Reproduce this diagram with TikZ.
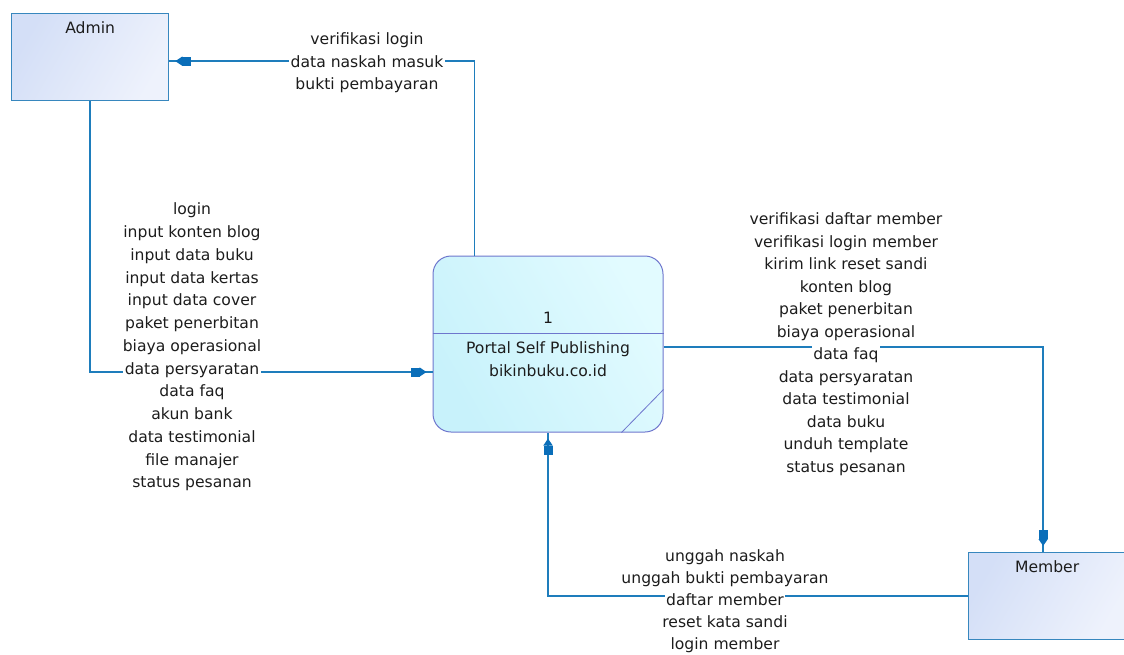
\documentclass[tikz,border=0pt]{standalone}
\usepackage{fontspec}
\setmainfont{DejaVu Sans}
\usetikzlibrary{arrows.meta,calc}
\definecolor{flowc}{RGB}{30,125,188}
\definecolor{tipc}{RGB}{10,110,185}
\definecolor{extb}{RGB}{55,135,190}
\definecolor{procb}{RGB}{110,118,205}
\definecolor{txt}{RGB}{28,28,28}
\definecolor{exttop}{RGB}{212,223,247}
\definecolor{extbot}{RGB}{238,242,252}
\definecolor{proctop}{RGB}{226,251,255}
\definecolor{procbot}{RGB}{200,242,251}
\newcommand{\wb}[1]{{\setlength{\fboxsep}{1.5pt}\colorbox{white}{#1}}}
\tikzset{
  dfd/.tip={Rectangle[length=9pt,width=9pt,color=tipc]Triangle[length=7pt,width=9pt,color=tipc]Rectangle[length=6pt,width=1.4pt,line width=0pt,color=flowc]},
}
\begin{document}
\begin{tikzpicture}[x=1pt,y=-1pt,
  font=\fontsize{15.6}{22.5}\selectfont, text=txt,
  extbox/.style={draw=extb, line width=1.3pt, left color=exttop, right color=extbot, shading angle=60,
    minimum width=157pt, minimum height=87pt, inner sep=0pt, anchor=north west},
  procbox/.style={draw=procb, line width=1pt, rounded corners=18pt, left color=procbot, right color=proctop, shading angle=120,
    minimum width=230pt, minimum height=176pt, inner sep=0pt},
  flow/.style={draw=flowc, line width=1.4pt, -dfd},
  lbl/.style={align=center, inner sep=1pt},
  ptxt/.style={align=center, inner sep=0pt},
]
\useasboundingbox (0,0) rectangle (1124,654);

\node[extbox, label={[anchor=center,yshift=-15pt]north:Admin}] (admin) at (11,13) {};
\node[extbox, label={[anchor=center,yshift=-15pt]north:Member}] (member) at (968,552) {};
\node[procbox] (proc) at (548,344) {};
\draw[procb, line width=1pt] ($(proc.north west)+(0,78)$) -- ($(proc.north east)+(0,78)$);
\draw[procb, line width=0.8pt] ($(proc.north east)+(0,134)$) -- ($(proc.south east)+(-42,0)$);
\node[ptxt] (pnum) at (548,318) {1};
\node[ptxt, font=\fontsize{15.6}{23}\selectfont] (pname) at (548,359) {Portal Self Publishing\\bikinbuku.co.id};

\coordinate (c2) at (0,372);
\coordinate (c3) at (0,347);

\draw[flow] ([xshift=42pt]proc.north west) |- ([yshift=-4pt]admin.east);
\draw[flow] (admin.south) |- (proc.west |- c2);
\draw[flow] (proc.east |- c3) -| ([xshift=-4pt]member.north);
\draw[flow] (member.west) -| (proc.south);

\node[lbl, font=\fontsize{15.6}{22.5}\selectfont] (l1) at (367,63) {verifikasi login\\\wb{data naskah masuk}\\bukti pembayaran};
\node[lbl, font=\fontsize{15.6}{22.75}\selectfont] (l2) at (192,347) {login\\input konten blog\\input data buku\\input data kertas\\input data cover\\paket penerbitan\\biaya operasional\\\wb{data persyaratan}\\data faq\\akun bank\\data testimonial\\file manajer\\status pesanan};
\node[lbl, font=\fontsize{15.6}{22.5}\selectfont] (l3) at (846,344) {verifikasi daftar member\\verifikasi login member\\kirim link reset sandi\\konten blog\\paket penerbitan\\biaya operasional\\\wb{data faq}\\data persyaratan\\data testimonial\\data buku\\unduh template\\status pesanan};
\node[lbl, font=\fontsize{15.6}{22}\selectfont] (l4) at (725,601) {unggah naskah\\unggah bukti pembayaran\\\wb{daftar member}\\reset kata sandi\\login member};
\end{tikzpicture}
\end{document}
